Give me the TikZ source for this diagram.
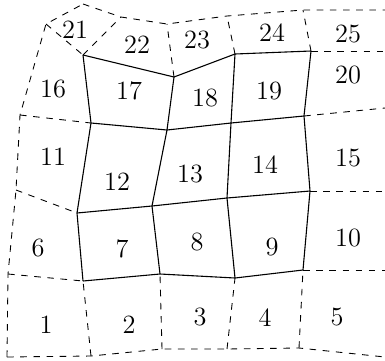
\documentclass[tikz,border=0pt]{standalone}
\usepackage{tikz}

\begin{document}
\begin{tikzpicture}[x=0.016cm, y=-0.016cm,
  cellnum/.style={inner sep=1pt, font=\large},
  inner/.style={line width=0.5pt},
  outer/.style={dashed, line width=0.4pt}]
  \useasboundingbox (0,0) rectangle (385,360);
  % mesh vertices, pIJ = column I, row J (J=0 at the bottom)
  \coordinate (p00) at (7,357);   \coordinate (p10) at (91,356);
  \coordinate (p20) at (162,349); \coordinate (p30) at (227,349);
  \coordinate (p40) at (299,348); \coordinate (p50) at (385,357);
  \coordinate (p01) at (8,274);   \coordinate (p11) at (83,281);
  \coordinate (p21) at (160,274); \coordinate (p31) at (235,278);
  \coordinate (p41) at (303,270); \coordinate (p51) at (385,270);
  \coordinate (p02) at (16,190);  \coordinate (p12) at (77,213);
  \coordinate (p22) at (152,206); \coordinate (p32) at (227,198);
  \coordinate (p42) at (310,191); \coordinate (p52) at (385,191);
  \coordinate (p03) at (20,115);  \coordinate (p13) at (91,123);
  \coordinate (p23) at (167,130); \coordinate (p33) at (231,123);
  \coordinate (p43) at (304,116); \coordinate (p53) at (385,108);
  \coordinate (p04) at (46,24);   \coordinate (p14) at (83,55);
  \coordinate (p24) at (174,77);  \coordinate (p34) at (235,54);
  \coordinate (p44) at (311,51);  \coordinate (p54) at (385,51);
  \coordinate (p05) at (83,4);    \coordinate (p15) at (121,17);
  \coordinate (p25) at (167,24);  \coordinate (p35) at (227,16);
  \coordinate (p45) at (303,10);  \coordinate (p55) at (385,10);

  % inner cells
  \draw[inner] (p11) -- (p21) -- (p31) -- (p41);
  \draw[inner] (p12) -- (p22) -- (p32) -- (p42);
  \draw[inner] (p13) -- (p23) -- (p33) -- (p43);
  \draw[inner] (p14) -- (p24) -- (p34) -- (p44);
  \draw[inner] (p11) -- (p12) -- (p13) -- (p14);
  \draw[inner] (p21) -- (p22) -- (p23) -- (p24);
  \draw[inner] (p31) -- (p32) -- (p33) -- (p34);
  \draw[inner] (p41) -- (p42) -- (p43) -- (p44);

  % outer ring
  \draw[outer] (p00) -- (p10) -- (p20) -- (p30) -- (p40) -- (p50);
  \draw[outer] (p05) -- (p15) -- (p25) -- (p35) -- (p45) -- (p55);
  \draw[outer] (p00) -- (p01) -- (p02) -- (p03) -- (p04) -- (p05);
  \draw[outer] (p01) -- (p11);  \draw[outer] (p41) -- (p51);
  \draw[outer] (p02) -- (p12);  \draw[outer] (p42) -- (p52);
  \draw[outer] (p03) -- (p13);  \draw[outer] (p43) -- (p53);
  \draw[outer] (p04) -- (p14);  \draw[outer] (p44) -- (p54);
  \draw[outer] (p10) -- (p11);  \draw[outer] (p14) -- (p15);
  \draw[outer] (p20) -- (p21);  \draw[outer] (p24) -- (p25);
  \draw[outer] (p30) -- (p31);  \draw[outer] (p34) -- (p35);
  \draw[outer] (p40) -- (p41);  \draw[outer] (p44) -- (p45);

  % cell numbers
  \node[cellnum] (n1) at (46,325) {1};
  \node[cellnum] (n2) at (129,325) {2};
  \node[cellnum] (n3) at (200,317) {3};
  \node[cellnum] (n4) at (265,318) {4};
  \node[cellnum] (n5) at (337,317) {5};
  \node[cellnum] (n6) at (38,248) {6};
  \node[cellnum] (n7) at (122,249) {7};
  \node[cellnum] (n8) at (197,242) {8};
  \node[cellnum] (n9) at (272,247) {9};
  \node[cellnum] (n10) at (348,238) {10};
  \node[cellnum] (n11) at (53,157) {11};
  \node[cellnum] (n12) at (117,182) {12};
  \node[cellnum] (n13) at (190,174) {13};
  \node[cellnum] (n14) at (265,165) {14};
  \node[cellnum] (n15) at (348,158) {15};
  \node[cellnum] (n16) at (53,89) {16};
  \node[cellnum] (n17) at (129,91) {17};
  \node[cellnum] (n18) at (205,98) {18};
  \node[cellnum] (n19) at (269,91) {19};
  \node[cellnum] (n20) at (348,75) {20};
  \node[cellnum] (n21) at (75,30) {21};
  \node[cellnum] (n22) at (137,45) {22};
  \node[cellnum] (n23) at (197,40) {23};
  \node[cellnum] (n24) at (272,33) {24};
  \node[cellnum] (n25) at (348,34) {25};
\end{tikzpicture}
\end{document}
